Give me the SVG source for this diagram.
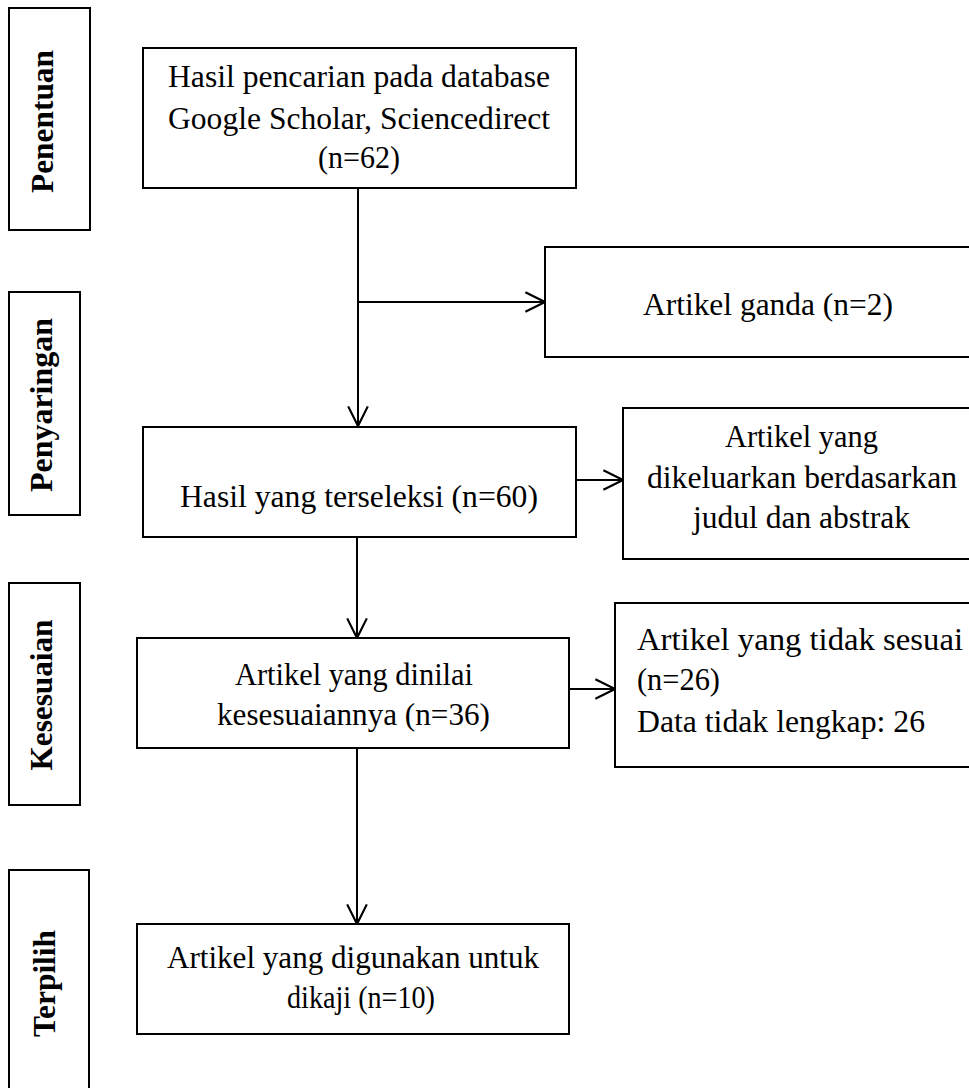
<svg xmlns="http://www.w3.org/2000/svg" width="969" height="1088" viewBox="0 0 969 1088">
<style>
.box{fill:#fff;stroke:#000;stroke-width:2}
.t{font-family:"Liberation Serif","Times New Roman",serif;font-size:31px;fill:#000}
.m{text-anchor:middle}
.lab{font-family:"Liberation Serif","Times New Roman",serif;font-size:31px;font-weight:bold;text-anchor:middle;fill:#000}
.c{fill:none;stroke:#000;stroke-width:2}
</style>
<defs>
<marker id="ah" markerUnits="userSpaceOnUse" markerWidth="24" markerHeight="24" viewBox="-20 -11 22 22" refX="0" refY="0" orient="auto">
<path d="M-18,-9 L0,0 L-18,9" fill="none" stroke="#000" stroke-width="2"/>
</marker>
</defs>
<rect width="969" height="1088" fill="#fff"/>

<g id="stage-penentuan">
<rect class="box" x="9" y="8" width="81" height="222"/>
<text class="lab" transform="translate(53,121.5) rotate(-90)" textLength="143" lengthAdjust="spacingAndGlyphs">Penentuan</text>
</g>
<g id="stage-penyaringan">
<rect class="box" x="9" y="292" width="71" height="223"/>
<text class="lab" transform="translate(52,405) rotate(-90)" textLength="174" lengthAdjust="spacingAndGlyphs">Penyaringan</text>
</g>
<g id="stage-kesesuaian">
<rect class="box" x="9" y="583" width="71" height="222"/>
<text class="lab" transform="translate(52,695) rotate(-90)" textLength="151" lengthAdjust="spacingAndGlyphs">Kesesuaian</text>
</g>
<g id="stage-terpilih">
<rect class="box" x="9" y="870" width="80" height="230"/>
<text class="lab" transform="translate(55,983.5) rotate(-90)" textLength="107" lengthAdjust="spacingAndGlyphs">Terpilih</text>
</g>

<g id="connectors">
<line class="c" x1="358" y1="188" x2="358" y2="426" marker-end="url(#ah)"/>
<line class="c" x1="358" y1="302" x2="545" y2="302" marker-end="url(#ah)"/>
<line class="c" x1="576" y1="480" x2="623" y2="480" marker-end="url(#ah)"/>
<line class="c" x1="357" y1="537" x2="357" y2="638" marker-end="url(#ah)"/>
<line class="c" x1="569" y1="689" x2="615" y2="689" marker-end="url(#ah)"/>
<line class="c" x1="357" y1="748" x2="357" y2="924" marker-end="url(#ah)"/>
</g>

<g id="n-hasil-pencarian">
<rect class="box" x="143" y="48" width="433" height="140"/>
<text class="t m" x="359" y="87" textLength="382" lengthAdjust="spacingAndGlyphs">Hasil pencarian pada database</text>
<text class="t m" x="359" y="129" textLength="382" lengthAdjust="spacingAndGlyphs">Google Scholar, Sciencedirect</text>
<text class="t m" x="359" y="168" textLength="82" lengthAdjust="spacingAndGlyphs">(n=62)</text>
</g>
<g id="n-artikel-ganda">
<rect class="box" x="545" y="247" width="440" height="110"/>
<text class="t m" x="768" y="315" textLength="250" lengthAdjust="spacingAndGlyphs">Artikel ganda (n=2)</text>
</g>
<g id="n-hasil-terseleksi">
<rect class="box" x="143" y="427" width="433" height="110"/>
<text class="t m" x="359" y="507" textLength="358" lengthAdjust="spacingAndGlyphs">Hasil yang terseleksi (n=60)</text>
</g>
<g id="n-dikeluarkan">
<rect class="box" x="623" y="408" width="360" height="151"/>
<text class="t m" x="801.5" y="447" textLength="153" lengthAdjust="spacingAndGlyphs">Artikel yang</text>
<text class="t m" x="802" y="488" textLength="310" lengthAdjust="spacingAndGlyphs">dikeluarkan berdasarkan</text>
<text class="t m" x="801.5" y="528" textLength="217" lengthAdjust="spacingAndGlyphs">judul dan abstrak</text>
</g>
<g id="n-dinilai">
<rect class="box" x="137" y="638" width="432" height="110"/>
<text class="t m" x="354" y="685" textLength="238" lengthAdjust="spacingAndGlyphs">Artikel yang dinilai</text>
<text class="t m" x="353.5" y="725" textLength="273" lengthAdjust="spacingAndGlyphs">kesesuaiannya (n=36)</text>
</g>
<g id="n-tidak-sesuai">
<rect class="box" x="615" y="603" width="370" height="164"/>
<text class="t" x="637" y="650" textLength="326" lengthAdjust="spacingAndGlyphs">Artikel yang tidak sesuai</text>
<text class="t" x="637" y="690" textLength="83" lengthAdjust="spacingAndGlyphs">(n=26)</text>
<text class="t" x="637" y="732" textLength="288" lengthAdjust="spacingAndGlyphs">Data tidak lengkap: 26</text>
</g>
<g id="n-digunakan">
<rect class="box" x="137" y="924" width="432" height="110"/>
<text class="t m" x="353" y="968" textLength="372" lengthAdjust="spacingAndGlyphs">Artikel yang digunakan untuk</text>
<text class="t m" x="361" y="1008" textLength="148" lengthAdjust="spacingAndGlyphs">dikaji (n=10)</text>
</g>
</svg>
